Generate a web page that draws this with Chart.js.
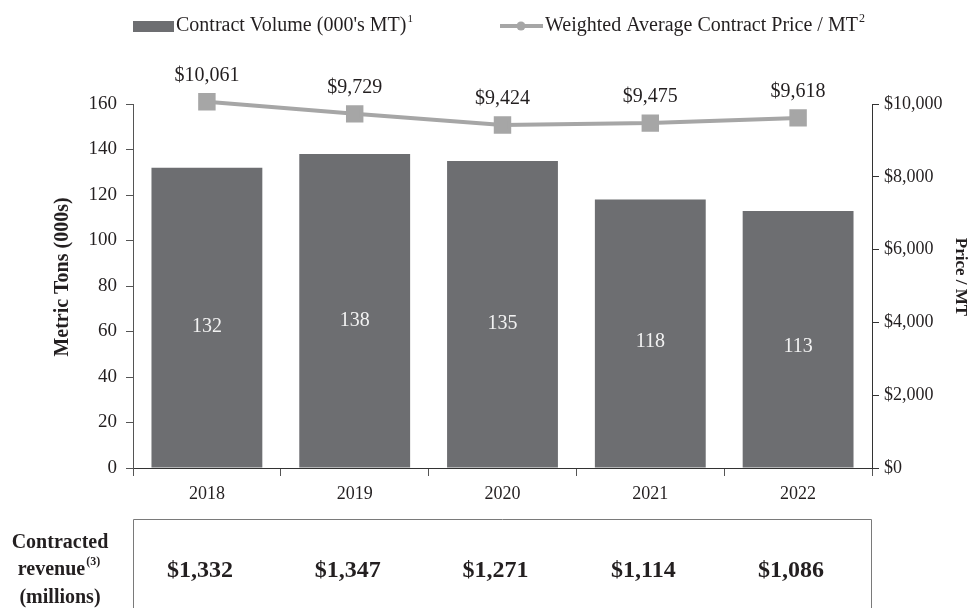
<!DOCTYPE html>
<html>
<head>
<meta charset="utf-8">
<script src="https://cdn.jsdelivr.net/npm/chart.js@4.4.0/dist/chart.umd.min.js"></script>
<style>
  html, body { margin: 0; padding: 0; background: #fff; }
  #wrap { width: 969px; height: 608px; position: relative; }
</style>
</head>
<body>
<div id="wrap"><canvas id="volumeChart" width="969" height="608"></canvas></div>
<script>
const years = ['2018', '2019', '2020', '2021', '2022'];
const volume = [132, 138, 135, 118, 113];
const price = [10061, 9729, 9424, 9475, 9618];
const revenue = ['$1,332', '$1,347', '$1,271', '$1,114', '$1,086'];
const leftTicks = [0, 20, 40, 60, 80, 100, 120, 140, 160];
const rightTicks = [0, 2000, 4000, 6000, 8000, 10000];

const serif = '"Liberation Serif", "Times New Roman", serif';
const textColor = '#231f20';

// labels, legend, axis titles and the revenue table
const extras = {
    id: 'extras',
    afterDatasetsDraw(chart) {
        const ctx = chart.ctx;
        const x = chart.scales.x;
        const y = chart.scales.y;
        const y1 = chart.scales.y1;
        ctx.save();

        // bar value labels
        ctx.font = '20px ' + serif;
        ctx.fillStyle = '#f2f2f2';
        ctx.textAlign = 'center';
        ctx.textBaseline = 'middle';
        volume.forEach((v, i) => {
            ctx.fillText(String(v), x.getPixelForValue(i), y.getPixelForValue(v * 0.47));
        });

        // price labels
        ctx.font = '20px ' + serif;
        ctx.fillStyle = textColor;
        price.forEach((p, i) => {
            ctx.fillText('$' + p.toLocaleString('en-US'), x.getPixelForValue(i), y1.getPixelForValue(p) - 26);
        });

        // legend
        ctx.fillStyle = '#6d6e71';
        ctx.fillRect(133, 21, 41, 11);
        ctx.fillStyle = textColor;
        ctx.textAlign = 'left';
        ctx.font = '20px ' + serif;
        ctx.fillText("Contract Volume (000's MT)", 176, 26);
        let w = ctx.measureText("Contract Volume (000's MT)").width;
        ctx.font = '11px ' + serif;
        ctx.fillText('1', 176 + w + 1, 19);

        ctx.strokeStyle = '#a6a6a6';
        ctx.lineWidth = 4;
        ctx.beginPath();
        ctx.moveTo(500, 26);
        ctx.lineTo(543, 26);
        ctx.stroke();
        ctx.fillStyle = '#a6a6a6';
        ctx.beginPath();
        ctx.arc(521, 26, 4.5, 0, Math.PI * 2);
        ctx.fill();
        ctx.fillStyle = textColor;
        ctx.font = '20px ' + serif;
        ctx.fillText('Weighted Average Contract Price / MT', 545, 26);
        w = ctx.measureText('Weighted Average Contract Price / MT').width;
        ctx.font = '12px ' + serif;
        ctx.fillText('2', 545 + w + 1, 19);

        // axis titles
        ctx.textAlign = 'center';
        ctx.font = 'bold 20px ' + serif;
        ctx.save();
        ctx.translate(63, 277);
        ctx.rotate(-Math.PI / 2);
        ctx.fillText('Metric Tons (000s)', 0, 0);
        ctx.restore();
        ctx.font = 'bold 17px ' + serif;
        ctx.save();
        ctx.translate(960, 277);
        ctx.rotate(Math.PI / 2);
        ctx.fillText('Price / MT', 0, 0);
        ctx.restore();

        // revenue table
        ctx.strokeStyle = '#7a7a7a';
        ctx.lineWidth = 1;
        ctx.beginPath();
        ctx.moveTo(133.5, 608);
        ctx.lineTo(133.5, 519.5);
        ctx.lineTo(871.5, 519.5);
        ctx.lineTo(871.5, 608);
        ctx.stroke();

        ctx.font = 'bold 24px ' + serif;
        revenue.forEach((r, i) => {
            ctx.fillText(r, x.getPixelForValue(i) - 7, 571);
        });

        ctx.font = 'bold 20px ' + serif;
        ctx.fillText('Contracted', 60, 543);
        ctx.fillText('(millions)', 60, 598);
        w = ctx.measureText('revenue').width;
        ctx.textAlign = 'left';
        ctx.fillText('revenue', 60 - (w + 17) / 2, 570);
        ctx.font = 'bold 12px ' + serif;
        ctx.fillText('(3)', 60 - (w + 17) / 2 + w + 1, 562);

        ctx.restore();
    }
};

const ctx = document.getElementById('volumeChart').getContext('2d');
const volumeChart = new Chart(ctx, {
    type: 'bar',
    data: {
        labels: years,
        datasets: [
            {
                type: 'line',
                label: 'Weighted Average Contract Price / MT',
                data: price,
                yAxisID: 'y1',
                borderColor: '#a6a6a6',
                backgroundColor: '#a6a6a6',
                borderWidth: 4,
                pointStyle: 'rect',
                pointRadius: 9.5,
                pointHoverRadius: 9.5,
                tension: 0,
                clip: false,
                order: 0
            },
            {
                label: "Contract Volume (000's MT)",
                data: volume,
                yAxisID: 'y',
                backgroundColor: '#6d6e71',
                categoryPercentage: 0.75,
                barPercentage: 1,
                order: 1
            }
        ]
    },
    options: {
        responsive: false,
        animation: false,
        layout: { padding: { top: 104, left: 0, right: 0, bottom: 0 } },
        plugins: {
            legend: { display: false },
            tooltip: { enabled: false }
        },
        scales: {
            x: {
                offset: true,
                grid: { display: true, drawOnChartArea: false, offset: true, tickLength: 8, color: '#555' },
                border: { display: true, color: '#333' },
                ticks: { font: { family: serif, size: 18 }, color: textColor, padding: 7 },
                afterFit: s => { s.height = 140; }
            },
            y: {
                position: 'left',
                min: 0,
                max: 160,
                afterBuildTicks: s => { s.ticks = leftTicks.map(v => ({ value: v })); },
                grid: { drawOnChartArea: false, tickLength: 7, color: '#555' },
                border: { display: true, color: '#555' },
                ticks: { font: { family: serif, size: 19 }, color: textColor, padding: 9 },
                afterFit: s => { s.width = 133; }
            },
            y1: {
                position: 'right',
                min: 0,
                max: 10000,
                afterBuildTicks: s => { s.ticks = rightTicks.map(v => ({ value: v })); },
                grid: { drawOnChartArea: false, tickLength: 7, color: '#333' },
                border: { display: true, color: '#333' },
                ticks: {
                    font: { family: serif, size: 18 },
                    color: textColor,
                    padding: 5,
                    callback: v => '$' + Number(v).toLocaleString('en-US')
                },
                afterFit: s => { s.width = 97; }
            }
        }
    },
    plugins: [extras]
});
</script>
</body>
</html>
